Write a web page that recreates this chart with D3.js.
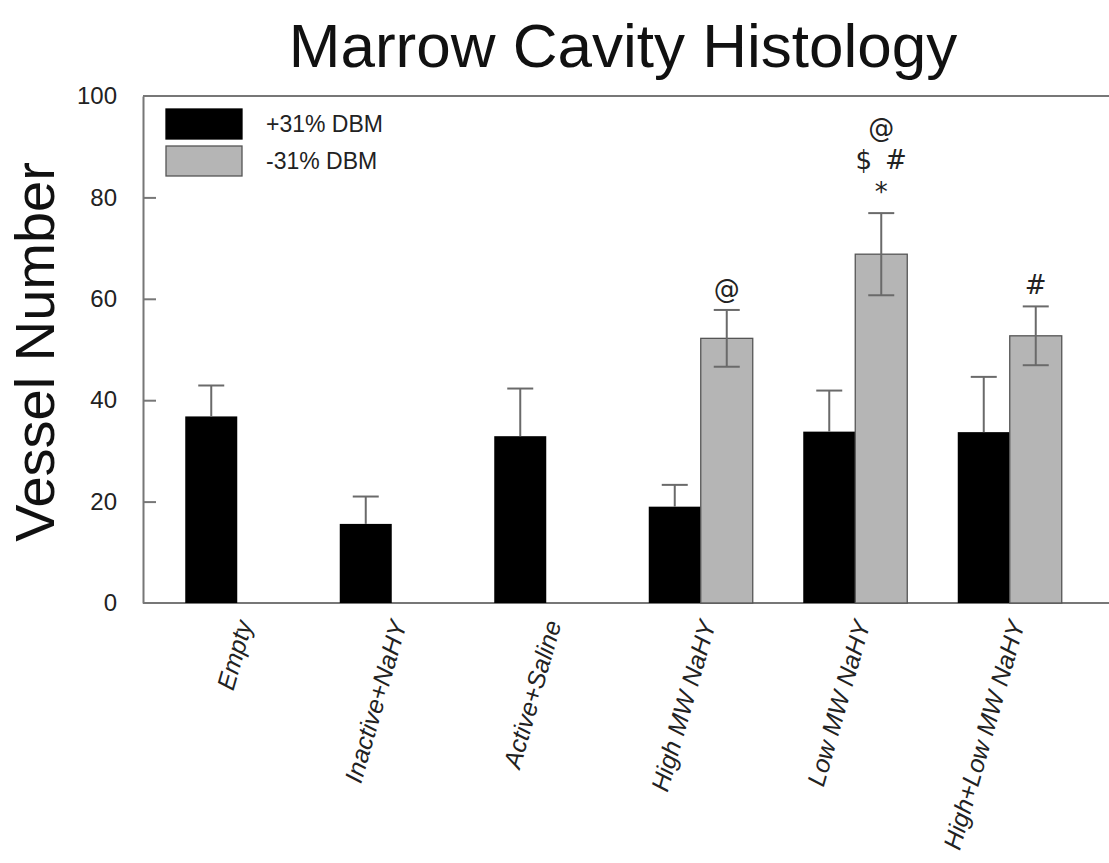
<!DOCTYPE html>
<html>
<head>
<meta charset="utf-8">
<script src="https://cdn.jsdelivr.net/npm/d3@7"></script>
<style>
  html, body { margin: 0; padding: 0; background: #fff; }
  svg { display: block; font-family: Arial, "Liberation Sans", Helvetica, sans-serif; }
</style>
</head>
<body>
<svg id="chart" width="1109" height="863"></svg>
<script>
// Marrow cavity histology: vessel number by treatment group
const categories = ["Empty", "Inactive+NaHY", "Active+Saline", "High MW NaHY", "Low MW NaHY", "High+Low MW NaHY"];
const seriesNames = ["+31% DBM", "-31% DBM"];
// mean vessel number (null = group not tested)
const plusMeans  = [36.8, 15.6, 32.9, 19.0, 33.8, 33.7];
const plusErr    = [6.1, 5.4, 9.4, 4.3, 8.1, 10.9];
const minusMeans = [null, null, null, 52.2, 68.8, 52.7];
const minusErr   = [null, null, null, 5.6, 8.1, 5.8];
// significance markers above the -31% DBM bars (stacked lines, bottom first)
const markers    = [null, null, null, ["@"], ["*", "$ #", "@"], ["#"]];
const yTicks = [0, 20, 40, 60, 80, 100];

const svg = d3.select("#chart");
const plotLeft = 143, plotRight = 1109, plotTop = 96, plotBottom = 603;

const x = d3.scaleBand().domain(categories).range([160, 1087]).paddingInner(0).paddingOuter(0);
const y = d3.scaleLinear().domain([0, 100]).range([plotBottom, plotTop]);
const barW = 52;

// title
svg.append("text")
  .attr("x", 623).attr("y", 67)
  .attr("text-anchor", "middle")
  .attr("font-size", 62)
  .attr("fill", "#111")
  .text("Marrow Cavity Histology");

// y-axis title
svg.append("text")
  .attr("transform", `translate(54,352) rotate(-90)`)
  .attr("text-anchor", "middle")
  .attr("font-size", 56)
  .attr("fill", "#111")
  .text("Vessel Number");

// y axis with inward ticks
const yAxis = d3.axisLeft(y).tickValues(yTicks).tickSizeInner(-13).tickSizeOuter(0).tickPadding(26);
const gy = svg.append("g").attr("transform", `translate(${plotLeft},0)`).call(yAxis);
gy.select(".domain").attr("stroke", "#777").attr("stroke-width", 2);
gy.selectAll(".tick line").attr("stroke", "#777").attr("stroke-width", 2);
gy.selectAll(".tick text").attr("font-size", 24).attr("fill", "#222").attr("font-family", "Arial, 'Liberation Sans', sans-serif");
gy.selectAll(".tick").filter(d => d === 0 || d === 100).select("line").remove();

// top frame line and baseline
svg.append("line").attr("x1", plotLeft).attr("x2", plotRight).attr("y1", plotTop).attr("y2", plotTop)
  .attr("stroke", "#777").attr("stroke-width", 2);
svg.append("line").attr("x1", plotLeft).attr("x2", plotRight).attr("y1", plotBottom).attr("y2", plotBottom)
  .attr("stroke", "#777").attr("stroke-width", 2);

const groupCenter = c => x(c) + x.bandwidth() / 2;

// +31% DBM bars
const plusData = categories.map((c, i) => ({ c, v: plusMeans[i], e: plusErr[i] }));
svg.append("g").selectAll("rect").data(plusData).join("rect")
  .attr("x", d => groupCenter(d.c) - barW)
  .attr("y", d => y(d.v))
  .attr("width", barW)
  .attr("height", d => y(0) - y(d.v))
  .attr("fill", "#000");

// -31% DBM bars
const minusData = categories.map((c, i) => ({ c, v: minusMeans[i], e: minusErr[i], m: markers[i] }))
  .filter(d => d.v !== null);
svg.append("g").selectAll("rect").data(minusData).join("rect")
  .attr("x", d => groupCenter(d.c))
  .attr("y", d => y(d.v))
  .attr("width", barW)
  .attr("height", d => y(0) - y(d.v))
  .attr("fill", "#b5b5b5")
  .attr("stroke", "#555")
  .attr("stroke-width", 1.3);

// error bars
const capW = 26;
function drawErr(g, data, offset, both) {
  data.forEach(d => {
    const cx = groupCenter(d.c) + offset;
    const yTop = y(d.v + d.e);
    const yLow = both ? y(d.v - d.e) : y(d.v);
    g.append("line").attr("x1", cx).attr("x2", cx).attr("y1", yLow).attr("y2", yTop)
      .attr("stroke", "#6a6a6a").attr("stroke-width", 2);
    g.append("line").attr("x1", cx - capW / 2).attr("x2", cx + capW / 2).attr("y1", yTop).attr("y2", yTop)
      .attr("stroke", "#6a6a6a").attr("stroke-width", 2);
    if (both) {
      g.append("line").attr("x1", cx - capW / 2).attr("x2", cx + capW / 2).attr("y1", yLow).attr("y2", yLow)
        .attr("stroke", "#6a6a6a").attr("stroke-width", 2);
    }
  });
}
const ge = svg.append("g");
drawErr(ge, plusData, -barW / 2, false);
drawErr(ge, minusData, barW / 2, true);

// significance markers
const gm = svg.append("g");
minusData.forEach(d => {
  if (!d.m) return;
  const cx = groupCenter(d.c) + barW / 2;
  const base = y(d.v + d.e) - 12;
  d.m.forEach((s, k) => {
    gm.append("text")
      .attr("x", cx).attr("y", base - k * 32)
      .attr("text-anchor", "middle")
      .attr("font-size", 26)
      .attr("fill", "#222")
      .attr("font-family", "'DejaVu Sans', Arial, sans-serif")
      .text(s.replace(" ", "\u2002"));
  });
});

// category labels, rotated
svg.append("g").selectAll("text").data(categories).join("text")
  .attr("transform", c => `translate(${groupCenter(c) + 7},621) rotate(-74)`)
  .attr("text-anchor", "end")
  .attr("dy", "0.35em")
  .attr("font-size", 25)
  .attr("font-style", "italic")
  .attr("fill", "#222")
  .text(c => c);

// legend
const legend = svg.append("g");
const legendColors = ["#000", "#b5b5b5"];
seriesNames.forEach((s, i) => {
  legend.append("rect")
    .attr("x", 166).attr("y", 109 + i * 37)
    .attr("width", 76).attr("height", 30)
    .attr("fill", legendColors[i])
    .attr("stroke", i === 1 ? "#555" : "#000")
    .attr("stroke-width", 1.3);
  legend.append("text")
    .attr("x", 266).attr("y", 124 + i * 37)
    .attr("dy", "0.35em")
    .attr("font-size", 23)
    .attr("fill", "#222")
    .text(s);
});
</script>
</body>
</html>
